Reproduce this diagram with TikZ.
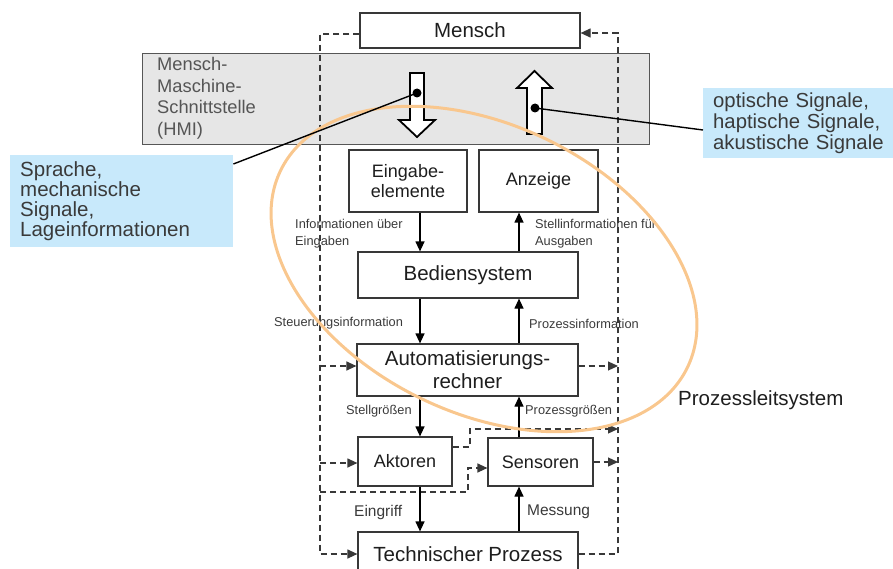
\documentclass[tikz,border=0pt]{standalone}
\usepackage{fontspec}
\setmainfont{Liberation Sans}
\usetikzlibrary{arrows.meta,calc}

\definecolor{boxline}{HTML}{383838}
\definecolor{hmigray}{HTML}{E6E6E6}
\definecolor{hmitxt}{HTML}{555555}
\definecolor{noteblue}{HTML}{C8E9FB}
\definecolor{plsorange}{HTML}{F9C78E}
\definecolor{txt}{HTML}{1E1E1E}
\definecolor{lbl}{HTML}{3A3A3A}

\newcommand\fsz[2]{\fontsize{#1}{#2}\selectfont}

\begin{document}
\begin{tikzpicture}[x=1pt,y=-1pt,
  block/.style={draw=boxline, line width=1.2pt, fill=white, inner sep=0pt, text=txt, align=center},
  big/.style={font=\fsz{20.5}{23}},
  mid/.style={font=\fsz{18}{20.5}},
  lab/.style={font=\fsz{12.8}{16.5}, text=lbl, anchor=west, inner sep=0pt, align=left},
  flow/.style={line width=1.2pt, -{Triangle[length=10pt,width=9pt]}},
  dsh/.style={line width=1.2pt, draw=boxline, dash pattern=on 6pt off 4pt},
  dsharr/.style={dsh, -{Triangle[length=10pt,width=9pt]}},
  note/.style={fill=noteblue, inner ysep=0pt, inner xsep=10pt, text=lbl, align=left,
               execute at begin node={\hyphenpenalty=10000 }},
  hollow/.style={draw=black, line width=1.8pt, fill=white, line join=miter}
]
\useasboundingbox (0,0) rectangle (893,569);

% human-machine interface band
\node[draw=boxline!85, line width=1pt, fill=hmigray, minimum width=507pt,
      minimum height=91pt, anchor=north west, inner sep=0pt] (hmi) at (142,53) {};
\node[anchor=west, align=left, inner sep=0pt, font=\fsz{18.3}{21.5}, text=hmitxt]
      (hmitext) at (157,98.5) {Mensch-\\Maschine-\\Schnittstelle\\(HMI)};

% columns for the vertical links
\coordinate (xl) at (420,0);
\coordinate (xr) at (519,0);
\coordinate (lx) at (320,0);
\coordinate (rx) at (618,0);

% blocks
\node[block,big,minimum width=220pt,minimum height=35pt] (mensch) at (470,30.5) {Mensch};
\node[block,mid,minimum width=118pt,minimum height=62pt] (eingabe) at (408,181) {Eingabe-\\elemente};
\node[block,mid,minimum width=119pt,minimum height=62pt] (anzeige) at (538.5,181) {Anzeige};
\node[block,big,minimum width=220pt,minimum height=46pt] (bedien) at (468,275) {Bediensystem};
\node[block,big,minimum width=221pt,minimum height=52pt] (automat) at (467.5,370) {Automatisierungs-\\rechner};
\node[block,mid,minimum width=94pt,minimum height=49pt] (aktoren) at (405,461.5) {Aktoren};
\node[block,mid,minimum width=105pt,minimum height=48pt] (sensoren) at (540.5,462) {Sensoren};
\node[block,big,minimum width=220pt,minimum height=44pt] (prozess) at (468,554) {Technischer Prozess};

% dashed side paths
\draw[dsharr] (mensch.west |- 0,34) -| (lx |- prozess.west) -- (prozess.west);
\draw[dsharr] (lx |- 0,366) -- (automat.west |- 0,366);
\draw[dsharr] (lx |- 0,463) -- (aktoren.west |- 0,463);
\draw[dsharr] (lx |- 0,492) -| (468,468) -- (sensoren.west |- 0,468);

\draw[dsharr] (prozess.east) -| (rx |- 0,33) -- (mensch.east |- 0,33);
\draw[dsharr] (automat.east |- 0,366) -- (rx |- 0,366);
\draw[dsharr] (sensoren.east) -- (rx |- sensoren.east);
\draw[dsharr] (aktoren.east |- 0,447) -| (470,429) -- (rx |- 0,429);

% signal flow
\draw[flow] (eingabe.south -| xl) -- (bedien.north -| xl);
\draw[flow] (bedien.north -| xr) -- (anzeige.south -| xr);
\draw[flow] (bedien.south -| xl) -- (automat.north -| xl);
\draw[flow] (automat.north -| xr) -- (bedien.south -| xr);
\draw[flow] (automat.south -| xl) -- (aktoren.north -| xl);
\draw[flow] (sensoren.north -| xr) -- (automat.south -| xr);
\draw[flow] (aktoren.south -| xl) -- (prozess.north -| xl);
\draw[flow] (prozess.north -| xr) -- (sensoren.south -| xr);

% flow labels
\node[lab] (l1) at (295,233.5) {Informationen über\\Eingaben};
\node[lab] (l2) at (535,233.5) {Stellinformationen für\\Ausgaben};
\node[lab] (l3) at (274,323) {Steuerungsinformation};
\node[lab] (l4) at (529,324) {Prozessinformation};
\node[lab] (l5) at (346,411) {Stellgrößen};
\node[lab] (l6) at (525,411) {Prozessgrößen};
\node[lab,font=\fsz{15.5}{18}] (l7) at (354,512) {Eingriff};
\node[lab,font=\fsz{15.5}{18}] (l8) at (527,512) {Messung};
\node[anchor=west,inner sep=0pt,font=\fsz{20.5}{23},text=txt] (pls) at (678,400) {Prozessleitsystem};

% hollow arrows through the interface
\draw[hollow] (410,73) -- (424,73) -- (424,120) -- (435,120) -- (417,137) -- (399,120) -- (410,120) -- cycle;
\draw[hollow] (527,134) -- (542,134) -- (542,88) -- (552,88) -- (534.5,71) -- (517,88) -- (527,88) -- cycle;

% notes
\node[note, text width=203pt, minimum height=92pt, anchor=north west, font=\fsz{20.5}{19.8}]
      (sprache) at (10,155) {Sprache,\\mechanische\\Signale,\\Lageinformationen};
\node[note, text width=185pt, minimum height=70pt, anchor=north west, font=\fsz{20.3}{21}]
      (signale) at (703,88) {optische Signale,\\haptische Signale,\\akustische Signale};

% process control system outline
\draw[plsorange, line width=3pt, rotate around={-25.8:(484,269)}]
      (484,269) ellipse [x radius=226pt, y radius=144pt];

% pointers from the arrows to the notes
\coordinate (dl) at (417,93);
\coordinate (dr) at (535,108);
\coordinate (pl) at ($(sprache.north east)+(0,9)$);
\coordinate (pr) at ($(signale.north west)+(0,42)$);
\draw[line width=1.4pt] (dl) -- (pl);
\draw[line width=1.4pt] (dr) -- (pr);
\fill (dl) circle[radius=4.5pt];
\fill (dr) circle[radius=4.5pt];
\end{tikzpicture}
\end{document}
